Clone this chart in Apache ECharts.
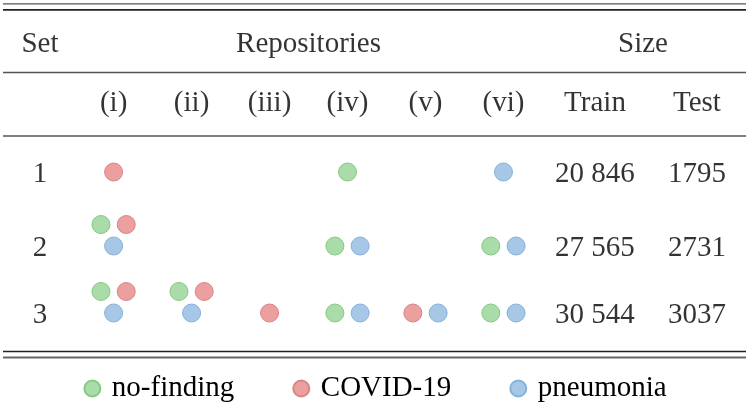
<!DOCTYPE html>
<html>
<head>
<meta charset="utf-8">
<script src="https://cdn.jsdelivr.net/npm/echarts@6/dist/echarts.min.js"></script>
<style>html,body{margin:0;padding:0;background:#fff}#c{width:750px;height:406px}</style>
</head>
<body>
<div id="c"></div>
<script>
// ---- data ----
var sets = ['1', '2', '3'];
var repositories = ['(i)', '(ii)', '(iii)', '(iv)', '(v)', '(vi)'];
var classes = ['no-finding', 'COVID-19', 'pneumonia'];
// classes contained in each repository, per set (N = no-finding, C = COVID-19, P = pneumonia)
var set1Repos = [['C'], [], [], ['N'], [], ['P']];
var set2Repos = [['N', 'C', 'P'], [], [], ['N', 'P'], [], ['N', 'P']];
var set3Repos = [['N', 'C', 'P'], ['N', 'C', 'P'], ['C'], ['N', 'P'], ['C', 'P'], ['N', 'P']];
var trainSize = [20846, 27565, 30544];
var testSize = [1795, 2731, 3037];
var headerLabels = ['Set', 'Repositories', 'Size'];
var subHeaderLabels = ['Train', 'Test'];

// ---- layout ----
var FONT = 'Liberation Serif';
var FS = 29;
var colors = {
  'N': {fill: '#a9dca8', stroke: '#86c884'},
  'C': {fill: '#eb9f9f', stroke: '#d98585'},
  'P': {fill: '#a6c8e6', stroke: '#86b1d8'}
};
var codeOf = {'no-finding': 'N', 'COVID-19': 'C', 'pneumonia': 'P'};
var rowPos = [1, 2.05, 3];
var setCol = -0.944, trainCol = 6.174, testCol = 7.482, sizeCol = 6.79;
var headerRow = -0.845, subRow = 0.0;
var textDy = 0.03;
var pairDx = 0.162, topDy = -0.305;

var allSets = [set1Repos, set2Repos, set3Repos];

function dotData(code) {
  var out = [];
  allSets.forEach(function (reps, si) {
    reps.forEach(function (list, ri) {
      var idx = list.indexOf(code);
      if (idx < 0) return;
      var x = ri, y = rowPos[si];
      if (list.length === 2) {
        x = ri + (idx === 0 ? -pairDx : pairDx);
      } else if (list.length === 3) {
        if (code === 'P') { x = ri; }
        else { x = ri + (code === 'N' ? -pairDx : pairDx); y = rowPos[si] + topDy; }
      }
      out.push([x, y]);
    });
  });
  return out;
}

function fmtThousands(v) {
  var s = String(v);
  if (s.length < 5) return s;
  return s.replace(/\B(?=(\d{3})+(?!\d))/g, ' ');
}

var textItems = [];
textItems.push({value: [setCol, headerRow + textDy], name: headerLabels[0]});
textItems.push({value: [2.5, headerRow + textDy], name: headerLabels[1]});
textItems.push({value: [sizeCol, headerRow + textDy], name: headerLabels[2]});
repositories.forEach(function (r, i) { textItems.push({value: [i, subRow + textDy], name: r}); });
textItems.push({value: [trainCol, subRow + textDy], name: subHeaderLabels[0]});
textItems.push({value: [testCol, subRow + textDy], name: subHeaderLabels[1]});
sets.forEach(function (s, i) {
  textItems.push({value: [setCol, rowPos[i] + textDy], name: s});
  textItems.push({value: [trainCol, rowPos[i] + textDy], name: fmtThousands(trainSize[i])});
  textItems.push({value: [testCol, rowPos[i] + textDy], name: fmtThousands(testSize[i])});
});

var series = classes.map(function (cl) {
  var c = colors[codeOf[cl]];
  return {
    name: cl, type: 'scatter', symbol: 'circle', symbolSize: 18, clip: false,
    itemStyle: {color: c.fill, borderColor: c.stroke, borderWidth: 1, opacity: 1},
    emphasis: {disabled: true},
    data: dotData(codeOf[cl])
  };
});
series.push({
  name: 'text', type: 'scatter', symbolSize: 0, clip: false, silent: true,
  label: {show: true, position: 'inside', formatter: function (p) { return p.name; },
    fontFamily: FONT, fontSize: FS, color: '#000', textBorderWidth: 0},
  data: textItems
});

function rule(y, w, col) {
  return {type: 'line', shape: {x1: 3, y1: y, x2: 746, y2: y}, style: {stroke: col, lineWidth: w}, silent: true};
}

var chart = echarts.init(document.getElementById('c'), null, {renderer: 'canvas'});
chart.setOption({
  animation: false,
  backgroundColor: '#fff',
  grid: {left: 0, right: 0, top: 0, bottom: 0},
  xAxis: {type: 'value', min: -1.457, max: 8.162, show: false},
  yAxis: {type: 'value', inverse: true, min: -1.4397, max: 4.3191, show: false},
  legend: {
    data: classes, top: 369, left: 'center', icon: 'circle', itemWidth: 17, itemHeight: 16,
    itemGap: 58, selectedMode: false,
    textStyle: {fontFamily: FONT, fontSize: FS, color: '#000', padding: [0, 0, 0, 6]}
  },
  graphic: [
    rule(3.8, 1.3, '#555'), rule(9.8, 1.8, '#222'),
    rule(72.5, 1.3, '#555'), rule(136, 1.3, '#555'),
    rule(351.5, 1.6, '#222'), rule(357.5, 1.8, '#666')
  ],
  series: series
});
</script>
</body>
</html>
